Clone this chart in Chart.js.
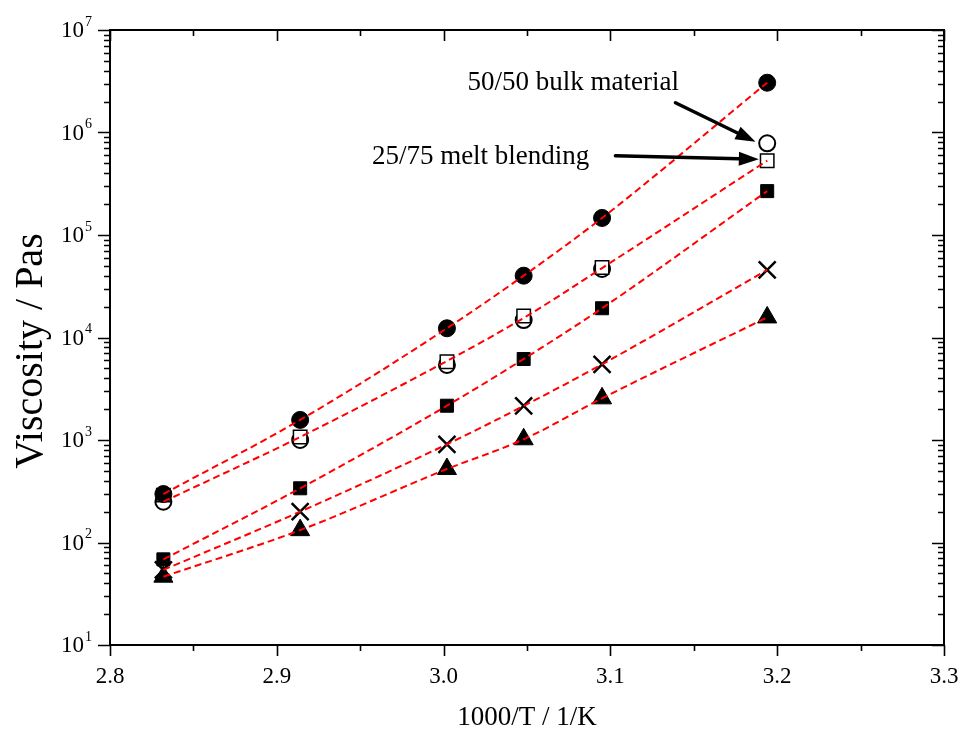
<!DOCTYPE html>
<html>
<head>
<meta charset="utf-8">
<script src="https://cdn.jsdelivr.net/npm/chart.js@4/dist/chart.umd.min.js"></script>
<style>
  html, body { margin: 0; padding: 0; background: #ffffff; }
  #wrap { width: 962px; height: 734px; }
</style>
</head>
<body>
<div id="wrap"><canvas id="c" width="962" height="734"></canvas></div>
<script>
// ---- data ----
const invTemp     = [2.832, 2.914, 3.002, 3.048, 3.095, 3.194];   // 1000/T (1/K)
const filledCircle = [297, 1570, 12300, 40100, 146600, 3060000];
const openCircle   = [250, 1000, 5400, 14800, 46600, 785000];
const openSquare   = [290, 1070, 5800, 16200, 48200, 531000];
const filledSquare = [68.5, 338, 2160, 6170, 19300, 268000];
const crossSeries  = [54, 200, 908, 2150, 5480, 45600];
const triangleSer  = [46.4, 132, 521, 1016, 2550, 15700];
const openFitLine  = [250, 1070, 5900, 15500, 47600, 531000];   // dashed fit through open symbols

const xTicks = [2.8, 2.9, 3.0, 3.1, 3.2, 3.3];
const yDecades = [1, 2, 3, 4, 5, 6, 7];
const yTitle = 'Viscosity / Pas';

// annotations (data coordinates)
const noteTexts = ['50/50 bulk material', '25/75 melt blending'];
const noteX     = [3.0143, 2.957];
const noteY     = [3.04e6, 5.77e5];
const arrowFromX = [3.139, 3.103];
const arrowFromY = [1.95e6, 5.94e5];
const arrowToX   = [3.187, 3.189];
const arrowToY   = [8.13e5, 5.48e5];

const SERIF = '"Liberation Serif", "Times New Roman", serif';

function pts(ys) { return invTemp.map((x, i) => ({x: x, y: ys[i]})); }

function markerSet(ys, style, radius, bg, border, bw) {
  return {
    data: pts(ys), showLine: false, order: 1,
    pointStyle: style, pointRadius: radius, pointHoverRadius: radius,
    pointBackgroundColor: bg, pointBorderColor: border, pointBorderWidth: bw
  };
}
function lineSet(ys) {
  return {
    data: pts(ys), showLine: true, order: 0, pointRadius: 0,
    borderColor: '#ff0000', borderWidth: 2, borderDash: [7, 4],
    cubicInterpolationMode: 'monotone', fill: false
  };
}

const axesPlugin = {
  id: 'axesPlugin',
  afterDraw(chart) {
    const ctx = chart.ctx;
    const {left, right, top, bottom} = chart.chartArea;
    const xs = chart.scales.x, ys = chart.scales.y;
    ctx.save();
    ctx.strokeStyle = '#000';
    ctx.lineWidth = 2;
    ctx.strokeRect(left, top, right - left, bottom - top);
    ctx.lineWidth = 1.6;
    // x ticks: majors every 0.1, minors at 0.05
    for (let k = 0; k <= 10; k++) {
      const v = 2.8 + k * 0.05;
      const px = Math.round(xs.getPixelForValue(v)) + 0.5;
      const len = (k % 2 === 0) ? 11 : 6;
      ctx.beginPath();
      ctx.moveTo(px, bottom); ctx.lineTo(px, bottom + len);
      ctx.moveTo(px, top); ctx.lineTo(px, top + len);
      ctx.stroke();
    }
    // y ticks: decades + 2..9
    yDecades.forEach(d => {
      const maxM = d === 7 ? 1 : 9;
      for (let m = 1; m <= maxM; m++) {
        const v = m * Math.pow(10, d);
        const py = Math.round(ys.getPixelForValue(v)) + 0.5;
        const len = m === 1 ? 12 : 6;
        ctx.beginPath();
        ctx.moveTo(left - len, py); ctx.lineTo(left, py);
        ctx.moveTo(right - len, py); ctx.lineTo(right, py);
        ctx.stroke();
      }
    });
    // y tick labels 10^n
    ctx.fillStyle = '#000';
    ctx.textBaseline = 'middle';
    yDecades.forEach(d => {
      const py = ys.getPixelForValue(Math.pow(10, d));
      ctx.font = '23px ' + SERIF;
      ctx.textAlign = 'right';
      ctx.fillText('10', left - 26, py + 1);
      ctx.font = '14px ' + SERIF;
      ctx.textAlign = 'left';
      ctx.fillText(String(d), left - 25, py - 8);
    });
    // y axis title
    ctx.save();
    ctx.translate(42, 351);
    ctx.rotate(-Math.PI / 2);
    ctx.font = '40px ' + SERIF;
    ctx.textAlign = 'center';
    ctx.textBaseline = 'alphabetic';
    ctx.fillText(yTitle, 0, 0);
    ctx.restore();
    // annotations
    ctx.font = '27px ' + SERIF;
    ctx.textAlign = 'left';
    ctx.textBaseline = 'middle';
    noteTexts.forEach((t, i) => {
      ctx.fillText(t, xs.getPixelForValue(noteX[i]), ys.getPixelForValue(noteY[i]));
    });
    // arrows
    ctx.lineWidth = 3.5;
    ctx.lineCap = 'round';
    for (let i = 0; i < arrowFromX.length; i++) {
      const x1 = xs.getPixelForValue(arrowFromX[i]), y1 = ys.getPixelForValue(arrowFromY[i]);
      const x2 = xs.getPixelForValue(arrowToX[i]), y2 = ys.getPixelForValue(arrowToY[i]);
      const ang = Math.atan2(y2 - y1, x2 - x1);
      const hl = 20, hw = 7;
      const bx = x2 - hl * Math.cos(ang), by = y2 - hl * Math.sin(ang);
      ctx.beginPath(); ctx.moveTo(x1, y1); ctx.lineTo(bx, by); ctx.stroke();
      ctx.beginPath();
      ctx.moveTo(x2, y2);
      ctx.lineTo(bx + hw * Math.sin(ang), by - hw * Math.cos(ang));
      ctx.lineTo(bx - hw * Math.sin(ang), by + hw * Math.cos(ang));
      ctx.closePath(); ctx.fill();
    }
    ctx.restore();
  }
};

new Chart(document.getElementById('c'), {
  type: 'scatter',
  data: {
    datasets: [
      lineSet(filledCircle),
      lineSet(openFitLine),
      lineSet(filledSquare),
      lineSet(crossSeries),
      lineSet(triangleSer),
      markerSet(filledCircle, 'circle', 8.5, '#000', '#000', 1),
      markerSet(openSquare, 'rect', 9.5, '#fff', '#000', 1.5),
      markerSet(openCircle, 'circle', 8, '#fff', '#000', 2),
      markerSet(filledSquare, 'rect', 9.2, '#000', '#000', 1),
      markerSet(crossSeries, 'crossRot', 12, '#000', '#000', 2.5),
      markerSet(triangleSer, 'triangle', 11, '#000', '#000', 1)
    ]
  },
  options: {
    responsive: false,
    animation: false,
    layout: { autoPadding: false, padding: { top: 30, right: 18, left: 0, bottom: 0 } },
    plugins: { legend: { display: false }, tooltip: { enabled: false } },
    scales: {
      x: {
        type: 'linear', min: 2.8, max: 3.3,
        afterBuildTicks: s => { s.ticks = xTicks.map(v => ({value: v})); },
        ticks: { callback: v => Number(v).toFixed(1), color: '#000', padding: 10,
                 font: { family: SERIF, size: 23 }, maxRotation: 0 },
        grid: { display: false }, border: { display: false },
        title: { display: true, text: '1000/T / 1/K', color: '#000',
                 font: { family: SERIF, size: 27 }, padding: { top: 0, bottom: 0 } },
        afterFit: s => { s.height = 89; s.paddingLeft = 0; s.paddingRight = 0; }
      },
      y: {
        type: 'logarithmic', min: 10, max: 1e7,
        afterBuildTicks: s => { s.ticks = yDecades.map(d => ({value: Math.pow(10, d)})); },
        ticks: { display: false },
        grid: { display: false }, border: { display: false },
        title: { display: false },
        afterFit: s => { s.width = 110; s.paddingTop = 0; s.paddingBottom = 0; }
      }
    }
  },
  plugins: [axesPlugin]
});
</script>
</body>
</html>
